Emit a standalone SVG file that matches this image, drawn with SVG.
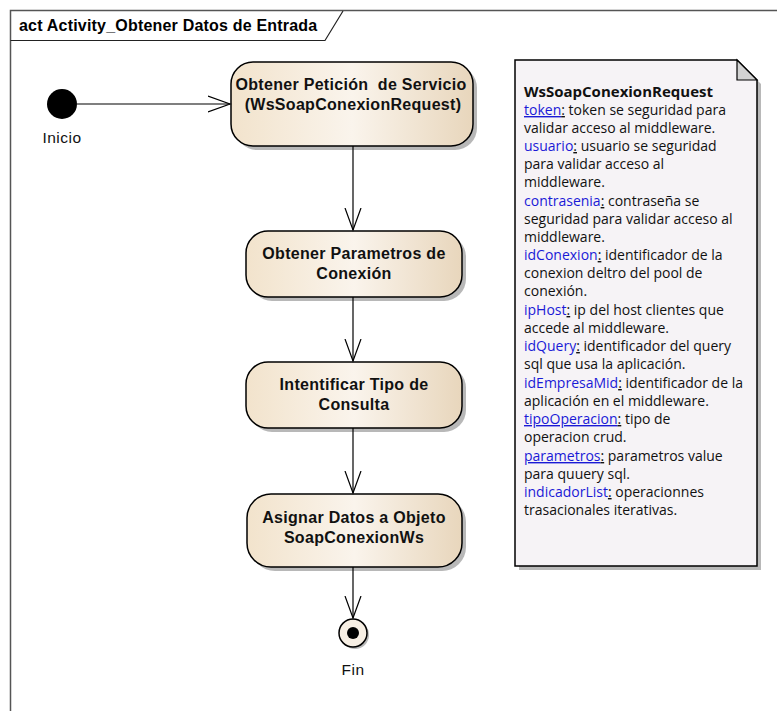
<svg xmlns="http://www.w3.org/2000/svg" width="777" height="711" viewBox="0 0 777 711">
  <defs>
    <linearGradient id="actFill" x1="0" y1="0" x2="1" y2="0">
      <stop offset="0" stop-color="#F2E3CC"/>
      <stop offset="0.5" stop-color="#FAF4EC"/>
      <stop offset="1" stop-color="#E8D6BC"/>
    </linearGradient>
    <marker id="openArrow" markerWidth="24" markerHeight="20" viewBox="0 0 24 20" refX="22" refY="10" orient="auto" markerUnits="userSpaceOnUse">
      <path d="M0,2 L22,10 L0,18" fill="none" stroke="#000" stroke-width="1.2"/>
    </marker>
  </defs>
  <style>
    .frame { fill: none; stroke: #555; stroke-width: 1.5; }
    .tab { fill: none; stroke: #222; stroke-width: 1.2; }
    .title { font-family: "Liberation Sans", Arial, sans-serif; font-size: 16px; font-weight: bold; fill: #000; letter-spacing: 0.2px; }
    .act { fill: url(#actFill); stroke: #000; stroke-width: 1.5; }
    .shadow { fill: #B8B8B8; }
    .actText { font-family: "Liberation Sans", Arial, sans-serif; font-size: 16px; font-weight: bold; fill: #111; text-anchor: middle; letter-spacing: 0.3px; }
    .label { font-family: "Liberation Sans", Arial, sans-serif; font-size: 15.5px; fill: #111; text-anchor: middle; letter-spacing: 0.5px; }
    .flow { fill: none; stroke: #000; stroke-width: 1.2; marker-end: url(#openArrow); }
    .note { fill: #F6F3F6; stroke: #000; stroke-width: 1.5; }
    .noteText { font-family: "Open Sans", "Noto Sans", sans-serif; font-size: 14px; fill: #111; }
    .noteTitle { font-weight: bold; font-size: 15px; }
    .link { fill: #1A1AD6; }
    .u { text-decoration: underline; }
  </style>

  <!-- diagram frame with name tab -->
  <g id="frame">
    <path class="frame" d="M10.5,711 L10.5,10.5 L777,10.5"/>
    <path class="tab" d="M10.5,40.5 L325,40.5 L343,11"/>
    <text class="title" x="19" y="31">act Activity_Obtener Datos de Entrada</text>
  </g>

  <!-- initial node -->
  <g id="inicio">
    <circle cx="62" cy="104" r="15" fill="#000"/>
    <text class="label" x="62" y="143">Inicio</text>
  </g>

  <!-- actions -->
  <g id="obtenerPeticion">
    <rect class="shadow" x="235" y="66" width="242" height="84" rx="22"/>
    <rect class="act" x="231" y="62" width="242" height="84" rx="22"/>
    <text class="actText" x="351" y="90" xml:space="preserve">Obtener Petición  de Servicio</text>
    <text class="actText" x="353" y="110">(WsSoapConexionRequest)</text>
  </g>

  <g id="obtenerParametros">
    <rect class="shadow" x="250" y="235" width="216" height="66" rx="22"/>
    <rect class="act" x="246" y="231" width="216" height="66" rx="22"/>
    <text class="actText" x="354" y="259">Obtener Parametros de</text>
    <text class="actText" x="354" y="279">Conexión</text>
  </g>

  <g id="identificarTipo">
    <rect class="shadow" x="250" y="366" width="216" height="66" rx="22"/>
    <rect class="act" x="246" y="362" width="216" height="66" rx="22"/>
    <text class="actText" x="354" y="390">Intentificar Tipo de</text>
    <text class="actText" x="354" y="410">Consulta</text>
  </g>

  <g id="asignarDatos">
    <rect class="shadow" x="251" y="498" width="215" height="73" rx="24"/>
    <rect class="act" x="247" y="494" width="215" height="73" rx="24"/>
    <text class="actText" x="354" y="523">Asignar Datos a Objeto</text>
    <text class="actText" x="354" y="543">SoapConexionWs</text>
  </g>

  <!-- final node -->
  <g id="fin">
    <circle cx="355" cy="635" r="14" fill="#B8B8B8"/>
    <circle cx="353" cy="633" r="14" fill="#F7EFE4" stroke="#000" stroke-width="1.5"/>
    <circle cx="353" cy="633" r="6" fill="#000"/>
    <text class="label" x="353" y="675">Fin</text>
  </g>

  <!-- control flows -->
  <g id="connectors">
    <path class="flow" d="M77,104 L230,104"/>
    <path class="flow" d="M353,146 L353,230"/>
    <path class="flow" d="M353,297 L353,361"/>
    <path class="flow" d="M353,428 L353,493"/>
    <path class="flow" d="M353,567 L353,618"/>
  </g>

  <!-- note describing the request fields -->
  <g id="nota">
    <path class="shadow" d="M519,64 L741,64 L761,84 L761,570 L519,570 Z"/>
    <path class="note" d="M515,60 L737,60 L757,80 L757,566 L515,566 Z"/>
    <path d="M737,60 L737,80 L757,80 Z" fill="#D2D2D2" stroke="#000" stroke-width="1.2"/>
    <g class="noteText">
      <text x="524" y="97" class="noteTitle">WsSoapConexionRequest</text>
      <text x="524" y="115"><tspan class="link u">token</tspan><tspan class="u">:</tspan> token se seguridad para</text>
      <text x="524" y="133">validar acceso al middleware.</text>
      <text x="524" y="151"><tspan class="link">usuario</tspan><tspan class="u">:</tspan> usuario se seguridad</text>
      <text x="524" y="169">para validar acceso al</text>
      <text x="524" y="187">middleware.</text>
      <text x="524" y="206"><tspan class="link">contrasenia</tspan><tspan class="u">:</tspan> contraseña se</text>
      <text x="524" y="224">seguridad para validar acceso al</text>
      <text x="524" y="242">middleware.</text>
      <text x="524" y="260"><tspan class="link">idConexion</tspan><tspan class="u">:</tspan> identificador de la</text>
      <text x="524" y="278">conexion deltro del pool de</text>
      <text x="524" y="296">conexión.</text>
      <text x="524" y="315"><tspan class="link">ipHost</tspan><tspan class="u">:</tspan> ip del host clientes que</text>
      <text x="524" y="333">accede al middleware.</text>
      <text x="524" y="351"><tspan class="link">idQuery</tspan><tspan class="u">:</tspan> identificador del query</text>
      <text x="524" y="369">sql que usa la aplicación.</text>
      <text x="524" y="388"><tspan class="link">idEmpresaMid</tspan><tspan class="u">:</tspan> identificador de la</text>
      <text x="524" y="406">aplicación en el middleware.</text>
      <text x="524" y="424"><tspan class="link u">tipoOperacion</tspan><tspan class="u">:</tspan> tipo de</text>
      <text x="524" y="442">operacion crud.</text>
      <text x="524" y="461"><tspan class="link u">parametros</tspan><tspan class="u">:</tspan> parametros value</text>
      <text x="524" y="479">para quuery sql.</text>
      <text x="524" y="497"><tspan class="link">indicadorList</tspan><tspan class="u">:</tspan> operacionnes</text>
      <text x="524" y="515">trasacionales iterativas.</text>
    </g>
  </g>
</svg>
